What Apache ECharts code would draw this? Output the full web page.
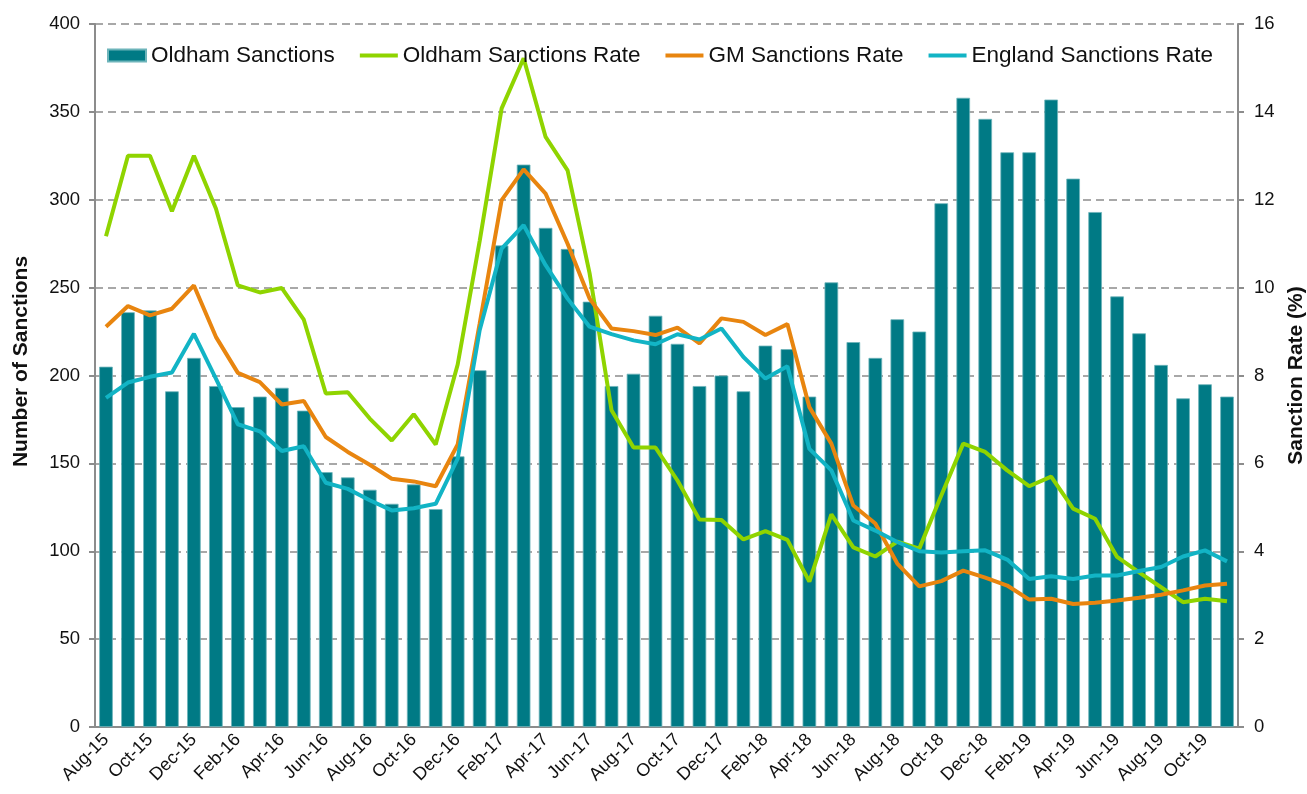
<!DOCTYPE html>
<html>
<head>
<meta charset="utf-8">
<script src="https://cdn.jsdelivr.net/npm/echarts@6/dist/echarts.min.js"></script>
<style>
  html, body { margin: 0; padding: 0; background: #fff; }
  #chart { width: 1307px; height: 794px; }
</style>
</head>
<body>
<div id="chart"></div>
<script>
// months Aug-15 .. Nov-19
const months = ['Aug-15','Sep-15','Oct-15','Nov-15','Dec-15','Jan-16','Feb-16','Mar-16','Apr-16','May-16','Jun-16','Jul-16',
  'Aug-16','Sep-16','Oct-16','Nov-16','Dec-16','Jan-17','Feb-17','Mar-17','Apr-17','May-17','Jun-17','Jul-17',
  'Aug-17','Sep-17','Oct-17','Nov-17','Dec-17','Jan-18','Feb-18','Mar-18','Apr-18','May-18','Jun-18','Jul-18',
  'Aug-18','Sep-18','Oct-18','Nov-18','Dec-18','Jan-19','Feb-19','Mar-19','Apr-19','May-19','Jun-19','Jul-19',
  'Aug-19','Sep-19','Oct-19','Nov-19'];

const oldhamSanctions = [205,236,237,191,210,194,182,188,193,180,145,142,
  135,127,138,124,154,203,274,320,284,272,242,194,
  201,234,218,194,200,191,217,215,188,253,219,210,
  232,225,298,358,346,327,327,357,312,293,245,224,
  206,187,195,188];

const oldhamRate = [11.17,13.0,13.0,11.74,13.0,11.8,10.05,9.89,9.99,9.27,7.59,7.62,
  7.02,6.52,7.12,6.43,8.25,11.06,14.08,15.22,13.43,12.67,10.33,7.21,
  6.36,6.36,5.61,4.72,4.71,4.27,4.46,4.26,3.31,4.84,4.09,3.88,
  4.22,4.06,5.27,6.45,6.26,5.84,5.48,5.70,4.97,4.74,3.87,3.52,
  3.18,2.84,2.92,2.86];

const gmRate = [9.11,9.58,9.37,9.52,10.05,8.88,8.06,7.85,7.34,7.42,6.60,6.26,
  5.97,5.65,5.59,5.48,6.43,9.18,11.99,12.69,12.14,11.0,9.75,9.07,
  9.01,8.92,9.09,8.73,9.30,9.22,8.92,9.17,7.28,6.45,5.04,4.63,
  3.72,3.20,3.32,3.56,3.40,3.22,2.90,2.92,2.80,2.83,2.88,2.94,
  3.01,3.11,3.22,3.26];

const englandRate = [7.49,7.84,7.97,8.07,8.95,7.93,6.89,6.73,6.28,6.39,5.56,5.42,
  5.16,4.93,4.98,5.08,6.11,9.03,10.89,11.42,10.51,9.75,9.11,8.94,
  8.80,8.71,8.94,8.82,9.07,8.42,7.93,8.21,6.33,5.84,4.70,4.47,
  4.21,4.00,3.97,4.00,4.02,3.81,3.37,3.43,3.37,3.45,3.45,3.55,
  3.64,3.88,4.02,3.77];

const FONT = '"Liberation Sans", Arial, sans-serif';
const AXIS_GREY = '#8c8c8c';
const LINE_ICON = 'path://M0,0 L40,0 L40,4 L0,4 Z';

const chart = echarts.init(document.getElementById('chart'));

function lineSeries(name, data, color) {
    return {
        name: name,
        type: 'line',
        yAxisIndex: 1,
        symbol: 'none',
        lineStyle: { color: color, width: 4 },
        itemStyle: { color: color },
        data: data
    };
}

const option = {
    animation: false,
    textStyle: { fontFamily: FONT },
    legend: {
        left: 107,
        top: 44,
        padding: 0,
        itemWidth: 38,
        itemHeight: 12,
        itemGap: 25,
        symbolKeepAspect: true,
        textStyle: { fontSize: 22.5, color: '#111', fontFamily: FONT },
        data: [
            { name: 'Oldham Sanctions', icon: 'rect' },
            { name: 'Oldham Sanctions Rate', icon: LINE_ICON },
            { name: 'GM Sanctions Rate', icon: LINE_ICON },
            { name: 'England Sanctions Rate', icon: LINE_ICON }
        ]
    },
    grid: { left: 95, right: 69, top: 24, bottom: 67, outerBoundsMode: 'none' },
    xAxis: {
        type: 'category',
        data: months,
        axisLine: { lineStyle: { color: AXIS_GREY, width: 2 } },
        axisTick: { interval: 1, length: 6, lineStyle: { color: AXIS_GREY, width: 2 } },
        axisLabel: { interval: 1, rotate: 45, fontSize: 18, color: '#111', margin: 10, fontFamily: FONT }
    },
    yAxis: [{
        type: 'value',
        min: 0, max: 400, interval: 50,
        name: 'Number of Sanctions',
        nameLocation: 'middle',
        nameRotate: 90,
        nameGap: 63,
        nameTextStyle: { fontSize: 21, fontWeight: 'bold', color: '#111', fontFamily: FONT, padding: [0, 0, 0, 28] },
        axisLine: { show: true, lineStyle: { color: AXIS_GREY, width: 2 } },
        axisTick: { show: true, length: 6, lineStyle: { color: AXIS_GREY, width: 2 } },
        axisLabel: { fontSize: 18.5, color: '#111', margin: 15, fontFamily: FONT },
        splitLine: { lineStyle: { color: AXIS_GREY, width: 1.5, type: [8, 5] } }
    }, {
        type: 'value',
        min: 0, max: 16, interval: 2,
        name: 'Sanction Rate (%)',
        nameLocation: 'middle',
        nameRotate: 90,
        nameGap: 47,
        nameTextStyle: { fontSize: 21, fontWeight: 'bold', color: '#111', fontFamily: FONT },
        axisLine: { show: true, lineStyle: { color: AXIS_GREY, width: 2 } },
        axisTick: { show: true, length: 6, lineStyle: { color: AXIS_GREY, width: 2 } },
        axisLabel: { fontSize: 18.5, color: '#111', margin: 16, fontFamily: FONT },
        splitLine: { show: false }
    }],
    series: [
        {
            name: 'Oldham Sanctions',
            type: 'bar',
            barWidth: '62%',
            itemStyle: { color: '#007a85', borderColor: '#6db4ba', borderWidth: 0.8 },
            data: oldhamSanctions
        },
        lineSeries('Oldham Sanctions Rate', oldhamRate, '#8fd400'),
        lineSeries('GM Sanctions Rate', gmRate, '#e8850f'),
        lineSeries('England Sanctions Rate', englandRate, '#12b4c5')
    ]
};

chart.setOption(option);
</script>
</body>
</html>
